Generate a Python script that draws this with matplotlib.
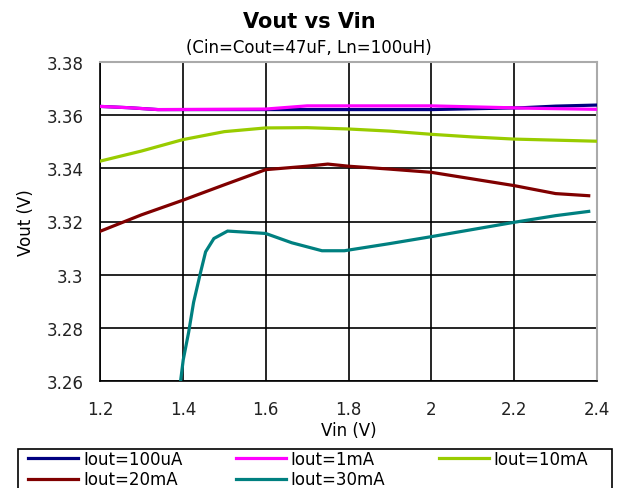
import matplotlib
matplotlib.use("Agg")
import matplotlib.pyplot as plt
from matplotlib.patches import Rectangle

# Data
x_100uA = [1.2, 1.27, 1.34, 1.6, 1.7, 2.0, 2.22, 2.3, 2.4]
y_100uA = [3.3633, 3.3628, 3.3621, 3.3621, 3.3621, 3.3621, 3.3628, 3.3634, 3.3638]

x_1mA = [1.2, 1.27, 1.34, 1.6, 1.7, 2.0, 2.24, 2.4]
y_1mA = [3.3633, 3.3628, 3.3621, 3.3623, 3.3635, 3.3635, 3.3626, 3.3622]

x_10mA = [1.2, 1.3, 1.4, 1.5, 1.6, 1.7, 1.8, 1.9, 2.0, 2.1, 2.2, 2.3, 2.4]
y_10mA = [3.3427, 3.3465, 3.3508, 3.3538, 3.3552, 3.3553, 3.3548, 3.3540, 3.3528, 3.3518, 3.3510, 3.3506, 3.3502]

x_20mA = [1.2, 1.3, 1.4, 1.5, 1.6, 1.7, 1.75, 1.8, 1.9, 2.0, 2.1, 2.2, 2.3, 2.38]
y_20mA = [3.3163, 3.3225, 3.3280, 3.3338, 3.3395, 3.3408, 3.3416, 3.3408, 3.3397, 3.3385, 3.3360, 3.3335, 3.3305, 3.3297]

x_30mA = [1.393, 1.401, 1.414, 1.426, 1.443, 1.455, 1.475, 1.508, 1.55, 1.6, 1.663, 1.736, 1.79, 1.9, 2.0, 2.1, 2.2, 2.3, 2.38]
y_30mA = [3.258, 3.268, 3.2783, 3.2896, 3.301, 3.3086, 3.3136, 3.3164, 3.3160, 3.3155, 3.3120, 3.3090, 3.3090, 3.3117, 3.3143, 3.3170, 3.3197, 3.3222, 3.3238]

series = [
    (x_100uA, y_100uA, "Iout=100uA", "#000080"),
    (x_1mA, y_1mA, "Iout=1mA", "#FF00FF"),
    (x_10mA, y_10mA, "Iout=10mA", "#99CC00"),
    (x_20mA, y_20mA, "Iout=20mA", "#800000"),
    (x_30mA, y_30mA, "Iout=30mA", "#008080"),
]

x_ticks = [1.2, 1.4, 1.6, 1.8, 2.0, 2.2, 2.4]
x_tick_labels = ["1.2", "1.4", "1.6", "1.8", "2", "2.2", "2.4"]
y_ticks = [3.26, 3.28, 3.30, 3.32, 3.34, 3.36, 3.38]
y_tick_labels = ["3.26", "3.28", "3.3", "3.32", "3.34", "3.36", "3.38"]

plt.rcParams['font.family'] = ['DejaVu Sans']
fig = plt.figure(figsize=(6.18, 4.89), dpi=100)
ax = fig.add_axes([100/618, 1-382/489, 497/618, 319/489])

for xs, ys, lab, col in series:
    ax.plot(xs, ys, color=col, lw=2.3, label=lab, solid_joinstyle='miter', zorder=3)

ax.set_xlim(1.2, 2.4)
ax.set_ylim(3.26, 3.38)
ax.set_xticks(x_ticks)
ax.set_xticklabels(x_tick_labels)
ax.set_yticks(y_ticks)
ax.set_yticklabels(y_tick_labels)
ax.tick_params(length=0, labelsize=12, colors='#222222')
ax.tick_params(axis='x', pad=14)
ax.tick_params(axis='y', pad=12)
ax.grid(True, color='black', lw=1.2, zorder=1)
for s in ['left', 'bottom']:
    ax.spines[s].set_color('black')
    ax.spines[s].set_linewidth(1.2)
for s in ['top', 'right']:
    ax.spines[s].set_color('#aaaaaa')
    ax.spines[s].set_linewidth(1.5)

ax.set_xlabel("Vin (V)", fontsize=12, labelpad=2)
ax.set_ylabel("Vout (V)", fontsize=12, labelpad=8)

fig.text(0.5, 1-22/489, "Vout vs Vin", ha='center', va='center', fontsize=15, fontweight='bold')
fig.text(0.5, 1-48/489, "(Cin=Cout=47uF, Ln=100uH)", ha='center', va='center', fontsize=12)

handles, labels = ax.get_legend_handles_labels()
order = [0, 3, 1, 4, 2]
leg = fig.legend([handles[i] for i in order], [labels[i] for i in order],
                 loc='upper left', ncol=3,
                 bbox_to_anchor=(28/618, 1-451/489),
                 fontsize=12, frameon=False,
                 handlelength=3.0, handletextpad=0.3, borderpad=0.0,
                 labelspacing=0.15, columnspacing=3.2, borderaxespad=0)
fig.add_artist(Rectangle((18/618, -0.05), 594/618, 0.05 + 1 - 450/489,
                         transform=fig.transFigure, fill=False,
                         edgecolor='black', lw=1.2))

fig.savefig("out.png", dpi=100)
